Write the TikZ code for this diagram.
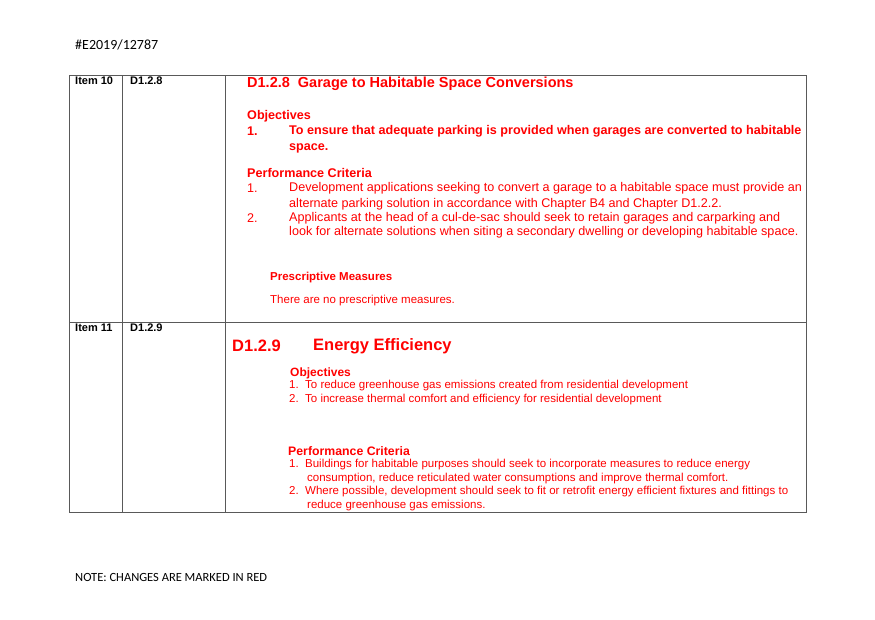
\documentclass[tikz,border=0pt]{standalone}
\usepackage{fontspec}
\setmainfont{Liberation Sans}
\newfontfamily\carfont{Carlito}
\begin{document}
\begin{tikzpicture}[x=1pt,y=-1pt,
  t/.style={anchor=west,inner sep=0pt,text=red,font=\fontsize{12.6}{14}\selectfont},
  tb/.style={t,font=\fontsize{12.6}{14}\selectfont\bfseries},
  s/.style={anchor=west,inner sep=0pt,text=red,font=\fontsize{11.5}{13}\selectfont},
  sb/.style={s,font=\fontsize{11.5}{13}\selectfont\bfseries},
  k/.style={anchor=west,inner sep=0pt,font=\fontsize{11}{13}\selectfont\bfseries},
  grid/.style={draw=black!65,line width=0.9pt}]
\useasboundingbox (0,0) rectangle (875,619);
\node[anchor=west,inner sep=0pt,font=\carfont\fontsize{14}{16}\selectfont] (hd) at (75,45) {\#E2019/12787};
\node[anchor=west,inner sep=0pt,font=\carfont\fontsize{12.5}{14}\selectfont] (note) at (75,577) {NOTE: CHANGES ARE MARKED IN RED};
% table
\draw[grid] (69,75) rectangle (806,512);
\draw[grid] (69,322) -- (806,322);
\draw[grid] (122,75) -- (122,512);
\draw[grid] (225,75) -- (225,512);
\node[k] (i10) at (75,81) {Item 10};
\node[k] (d128) at (130,81) {D1.2.8};
\node[k] (i11) at (75,328) {Item 11};
\node[k] (d129) at (130,328) {D1.2.9};
% row 1
\node[anchor=west,inner sep=0pt,text=red,font=\fontsize{14.5}{16}\selectfont\bfseries] (t1) at (247,84) {D1.2.8\ \ Garage to Habitable Space Conversions};
\node[tb] (o1) at (247,116) {Objectives};
\node[tb] (o1n) at (247,131) {1.};
\node[tb] (o1a) at (289,131) {To ensure that adequate parking is provided when garages are converted to habitable};
\node[tb] (o1b) at (289,148) {space.};
\node[tb] (p1) at (247,173) {Performance Criteria};
\node[t] (p1n1) at (247,188) {1.};
\node[t] (p1a) at (289,188) {Development applications seeking to convert a garage to a habitable space must provide an};
\node[t] (p1b) at (289,204) {alternate parking solution in accordance with Chapter B4 and Chapter D1.2.2.};
\node[t] (p1n2) at (247,218) {2.};
\node[t] (p1c) at (289,218) {Applicants at the head of a cul-de-sac should seek to retain garages and carparking and};
\node[t] (p1d) at (289,232) {look for alternate solutions when siting a secondary dwelling or developing habitable space.};
\node[sb] (pm) at (270,278) {Prescriptive Measures};
\node[s] (pmt) at (270,301) {There are no prescriptive measures.};
% row 2
\node[anchor=west,inner sep=0pt,text=red,font=\fontsize{16.5}{18}\selectfont\bfseries] (t2a) at (232,346) {D1.2.9};
\node[anchor=west,inner sep=0pt,text=red,font=\fontsize{16.5}{18}\selectfont\bfseries] (t2b) at (313,346) {Energy Efficiency};
\node[sb,font=\fontsize{12}{13}\selectfont\bfseries] (o2) at (290,373) {Objectives};
\node[s] (o2a) at (289,386) {1.\ \ To reduce greenhouse gas emissions created from residential development};
\node[s] (o2b) at (289,400) {2.\ \ To increase thermal comfort and efficiency for residential development};
\node[sb,font=\fontsize{12.3}{14}\selectfont\bfseries] (p2) at (288,451) {Performance Criteria};
\node[s] (p2a) at (289,465) {1.\ \ Buildings for habitable purposes should seek to incorporate measures to reduce energy};
\node[s] (p2b) at (307,479) {consumption, reduce reticulated water consumptions and improve thermal comfort.};
\node[s] (p2c) at (289,492) {2.\ \ Where possible, development should seek to fit or retrofit energy efficient fixtures and fittings to};
\node[s] (p2d) at (307,506) {reduce greenhouse gas emissions.};
\end{tikzpicture}
\end{document}
